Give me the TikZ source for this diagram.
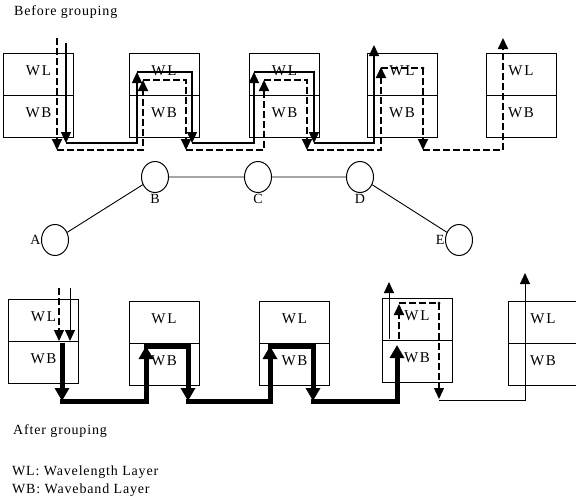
\documentclass[tikz,border=0pt]{standalone}
\usepackage{fontspec}
\setmainfont{Liberation Serif}[LetterSpace=6.0]
\usetikzlibrary{positioning,arrows.meta,shapes.geometric}

\begin{document}
\begin{tikzpicture}[x=1pt, y=-1pt,
    every node/.style={font=\fontsize{14}{17}\selectfont},
    layer/.style={draw, line width=0.8pt, minimum width=70pt, minimum height=42pt,
        inner sep=0pt, outer sep=0pt, text height=10pt, text depth=8pt,
        font=\fontsize{15}{18}\selectfont\addfontfeature{LetterSpace=12.0}},
    site/.style={draw, ellipse, line width=1pt, minimum width=27pt, minimum height=31pt, inner sep=0pt},
    note/.style={anchor=west, inner sep=0pt},
    light/.style={line width=1.3pt, -{Triangle[width=10pt,length=11pt]}},
    lightdash/.style={light, line width=1.8pt, dash pattern=on 7pt off 3pt},
    band/.style={line width=5pt, line cap=rect, -{Triangle[width=14pt,length=13pt]}}]
    \useasboundingbox (0,0) rectangle (576,499);

    % 分组前
    \node[note] (before) at (14,12) {Before grouping};

    \node[layer] (tl1) at (38.5,74) {WL};
    \node[layer, below=0pt of tl1] (tb1) {WB};
    \node[layer] (tl2) at (164,74) {WL};
    \node[layer, below=0pt of tl2] (tb2) {WB};
    \node[layer] (tl3) at (284.5,74) {WL};
    \node[layer, below=0pt of tl3] (tb3) {WB};
    \node[layer] (tl4) at (402,74) {WL};
    \node[layer, below=0pt of tl4] (tb4) {WB};
    \node[layer] (tl5) at (521,74) {WL};
    \node[layer, below=0pt of tl5] (tb5) {WB};

    % 实线光路
    \draw[light] (66,43) -- (66,143);
    \draw[light] (66,143) -| (137,72);
    \draw[light] (137,72) -| (192,143);
    \draw[light] (192,143) -| (254,72);
    \draw[light] (254,72) -| (314,143);
    \draw[light] (314,143) -| (374,45);

    % 虚线光路
    \draw[lightdash] (57,38) -- (57,150);
    \draw[lightdash] (57,150) -| (143,80);
    \draw[lightdash] (143,80) -| (186,150);
    \draw[lightdash] (186,150) -| (264,80);
    \draw[lightdash] (264,80) -| (307,150);
    \draw[lightdash] (307,150) -| (381,67);
    \draw[lightdash, -] (381,68) -- (423,68);
    \fill (423,68) circle (1.5);
    \draw[lightdash] (423,68) -- (423,150);
    \draw[lightdash] (423,150) -| (503,38);

    % 网络节点
    \node[site, label={[label distance=-3pt]left:A}] (A) at (55,240) {};
    \node[site, label={[label distance=-2pt]below:B}] (B) at (155,177) {};
    \node[site, label={[label distance=-2pt]below:C}] (C) at (258,177) {};
    \node[site, label={[label distance=-2pt]below:D}] (D) at (360,177) {};
    \node[site, label={[label distance=-3pt]left:E}] (E) at (459,240) {};
    \draw[line width=0.9pt] (A) -- (B) -- (C) -- (D) -- (E);

    % 分组后
    \node[layer] (bl1) at (43.5,320) {WL};
    \node[layer, below=0pt of bl1] (bb1) {WB};
    \node[layer] (bl2) at (164,322) {WL};
    \node[layer, below=0pt of bl2] (bb2) {WB};
    \node[layer] (bl3) at (294.5,322) {WL};
    \node[layer, below=0pt of bl3] (bb3) {WB};
    \node[layer] (bl4) at (417,319) {WL};
    \node[layer, below=0pt of bl4] (bb4) {WB};
    \node[layer] (bl5) at (543,322) {WL};
    \node[layer, below=0pt of bl5] (bb5) {WB};

    \draw[light, line width=1pt] (70,288) -- (70,341);
    \draw[lightdash, line width=1.2pt] (59,288) -- (59,341);

    % 波带光路
    \draw[band] (62,345) -- (62,401);
    \draw[band] (62,401) -| (146,346);
    \draw[band] (146,346) -| (188,401);
    \draw[band] (188,401) -| (270,346);
    \draw[band] (270,346) -| (313,401);
    \draw[band] (313,401) -| (397,345);

    \draw[light, line width=1pt] (389,339) -- (389,282);
    \draw[lightdash] (399,339) -- (399,304);
    \draw[lightdash, -] (399,303) -- (439,303);
    \fill (439,303) circle (1.5);
    \draw[lightdash, line width=1.3pt] (439,303) -- (439,399);
    \draw[light, line width=1pt] (439,400) -| (525,273);

    % 图例
    \node[note] (after) at (13,431) {After grouping};
    \node[note] (key1) at (12,472) {WL: Wavelength Layer};
    \node[note] (key2) at (12,490) {WB: Waveband Layer};
\end{tikzpicture}
\end{document}
